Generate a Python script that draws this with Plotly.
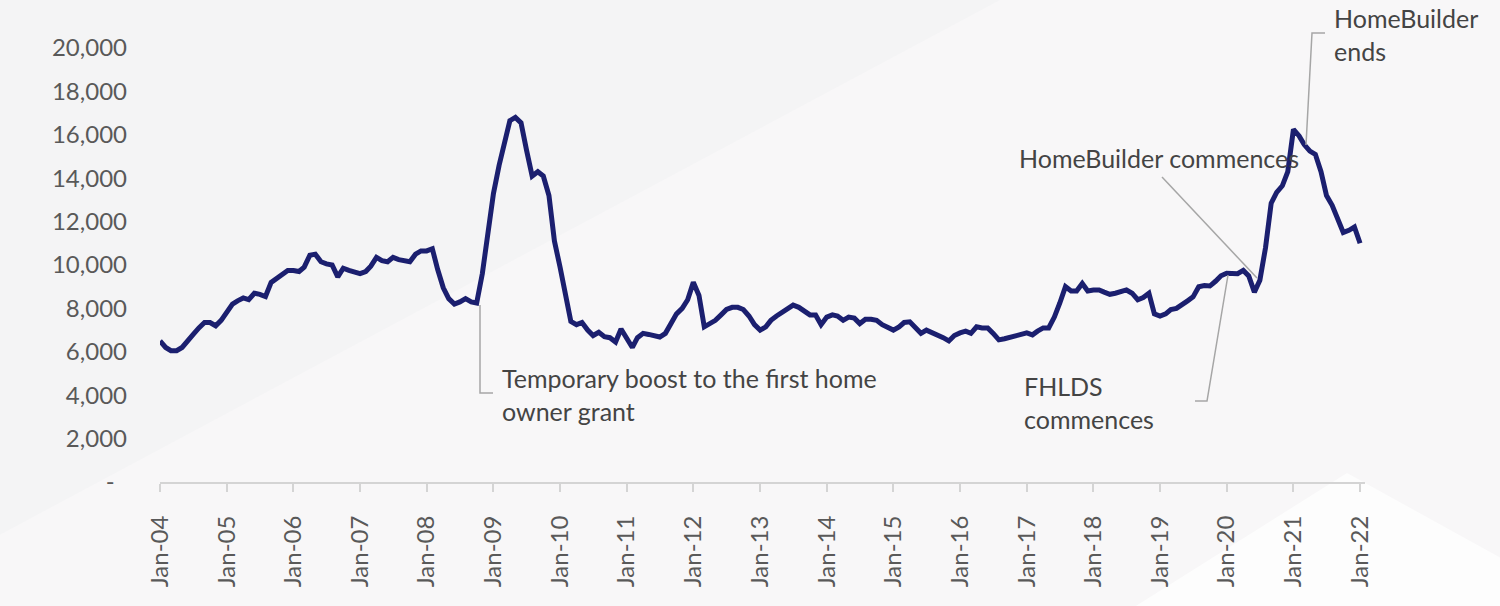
import pandas as pd
import plotly.graph_objects as go

# ---- data ----
start_month = "2004-01-01"
n_months = 217
values = [
    6500, 6200, 6050, 6050, 6200, 6550, 6800, 7100, 7350, 7350, 7200, 7450,          # 2004
    7880, 8200, 8350, 8480, 8400, 8700, 8650, 8550, 9200, 9400, 9550, 9750,          # 2005
    9750, 9700, 9900, 10450, 10500, 10150, 10050, 10000, 9450, 9850, 9750, 9700,     # 2006
    9600, 9700, 9950, 10350, 10200, 10150, 10350, 10250, 10200, 10150, 10500, 10650, # 2007
    10650, 10750, 9800, 8950, 8450, 8200, 8300, 8450, 8300, 8250, 9600, 11450,       # 2008
    13300, 14600, 15500, 16650, 16800, 16550, 15300, 14100, 14300, 14100, 13200, 11100,  # 2009
    9900, 8600, 7400, 7250, 7350, 7000, 6750, 6900, 6700, 6650, 6450, 7050,          # 2010
    6650, 6200, 6650, 6850, 6800, 6750, 6680, 6850, 7300, 7750, 8000, 8400,          # 2011
    9200, 8600, 7150, 7300, 7450, 7700, 7950, 8050, 8050, 7950, 7650, 7250,          # 2012
    7000, 7150, 7450, 7650, 7800, 7950, 8150, 8050, 7850, 7700, 7700, 7250,          # 2013
    7600, 7700, 7650, 7450, 7600, 7550, 7300, 7500, 7500, 7450, 7250, 7100,          # 2014
    7000, 7150, 7350, 7380, 7150, 6850, 7000, 6900, 6800, 6650, 6500, 6750,          # 2015
    6870, 6950, 6850, 7150, 7100, 7100, 6850, 6550, 6600, 6650, 6720, 6800,          # 2016
    6870, 6780, 6950, 7100, 7100, 7600, 8250, 9000, 8800, 8800, 9150, 8800,          # 2017
    8850, 8850, 8750, 8650, 8700, 8800, 8850, 8700, 8400, 8500, 8700, 7750,          # 2018
    7650, 7750, 7950, 8000, 8150, 8350, 8530, 9000, 9050, 9030, 9250, 9500,          # 2019
    9620, 9600, 9600, 9750, 9500, 8750, 9300, 10800, 12850, 13350, 13650, 14300,     # 2020
    16250, 15950, 15550, 15250, 15100, 14300, 13200, 12750, 12100, 11500, 11600, 11750,  # 2021
    11000,                                                                           # 2022
]
months = pd.date_range(start_month, periods=n_months, freq="MS")

y_tickvals = [0, 2000, 4000, 6000, 8000, 10000, 12000, 14000, 16000, 18000, 20000]
y_ticktext = ["-\u00a0\u00a0", "2,000", "4,000", "6,000", "8,000", "10,000",
              "12,000", "14,000", "16,000", "18,000", "20,000"]

notes = [
    "Temporary boost to the first home<br>owner grant",
    "FHLDS<br>commences",
    "HomeBuilder commences",
    "HomeBuilder<br>ends",
]

# ---- layout geometry (pixels of the 1500x606 canvas) ----
W, H = 1500, 606
L, R, T, B = 160, 135, 48, 124
PW, PH = W - L - R, H - T - B


def px(x):
    return (x - L) / PW


def py(y):
    return (H - B - y) / PH


NAVY = "#1b1f6f"
GREY_LINE = "#a6a6a6"
FONT = "Lato"

fig = go.Figure()
fig.add_trace(go.Scatter(
    x=months, y=values, mode="lines",
    line=dict(color=NAVY, width=5),
    hoverinfo="skip", showlegend=False,
))

shapes = []
# background tones
shapes.append(dict(type="path", xref="paper", yref="paper", layer="below",
                   path=f"M {px(-10)},{py(540)} L {px(1000)},{py(0)} L {px(1510)},{py(0)} "
                        f"L {px(1510)},{py(616)} L {px(-10)},{py(616)} Z",
                   fillcolor="#f8f7f8", line=dict(width=0)))
shapes.append(dict(type="path", xref="paper", yref="paper", layer="below",
                   path=f"M {px(1347)},{py(473)} L {px(1120)},{py(616)} L {px(1510)},{py(616)} "
                        f"L {px(1510)},{py(563)} Z",
                   fillcolor="#fdfdfd", line=dict(width=0)))

# connectors
def conn(points):
    d = "M " + " L ".join(f"{px(a)},{py(b)}" for a, b in points)
    shapes.append(dict(type="path", xref="paper", yref="paper", path=d,
                       line=dict(color=GREY_LINE, width=1.5)))


conn([(480, 305), (480, 393), (493, 393)])
conn([(1228, 275), (1207, 401), (1195, 401)])
conn([(1162, 177), (1257, 278)])
conn([(1325, 33), (1312, 33), (1306, 145)])

annotations = []
ann_pos = [(500, 394), (1022, 402), (1017, 158), (1332, 35)]
for text, (ax, ay) in zip(notes, ann_pos):
    annotations.append(dict(text=text, xref="paper", yref="paper", x=px(ax), y=py(ay),
                            xanchor="left", yanchor="middle", align="left", showarrow=False,
                            font=dict(family=FONT, size=25, color="#444444")))

fig.update_layout(
    width=W, height=H,
    margin=dict(l=L, r=R, t=T, b=B, pad=0),
    paper_bgcolor="#f4f4f5", plot_bgcolor="rgba(0,0,0,0)",
    shapes=shapes, annotations=annotations,
    xaxis=dict(type="date", range=["2004-01-01", "2022-01-28"],
               tick0="2004-01-01", dtick="M12", tickformat="%b-%y", tickangle=-90,
               showgrid=False, zeroline=False,
               showline=True, linecolor="#d4d4d4", linewidth=2,
               ticks="outside", ticklen=8, tickwidth=2, tickcolor="#d4d4d4",
               ticklabelstandoff=14,
               tickfont=dict(family=FONT, size=24, color="#595959")),
    yaxis=dict(range=[0, 20000], tickvals=y_tickvals, ticktext=y_ticktext,
               showgrid=False, zeroline=False, showline=False, ticks="",
               ticklabelstandoff=32,
               tickfont=dict(family=FONT, size=24, color="#595959")),
)

fig.write_html("out.html", config={"displayModeBar": False, "staticPlot": True},
               post_script="document.body.style.margin='0';document.body.style.background='#f4f4f5';")
